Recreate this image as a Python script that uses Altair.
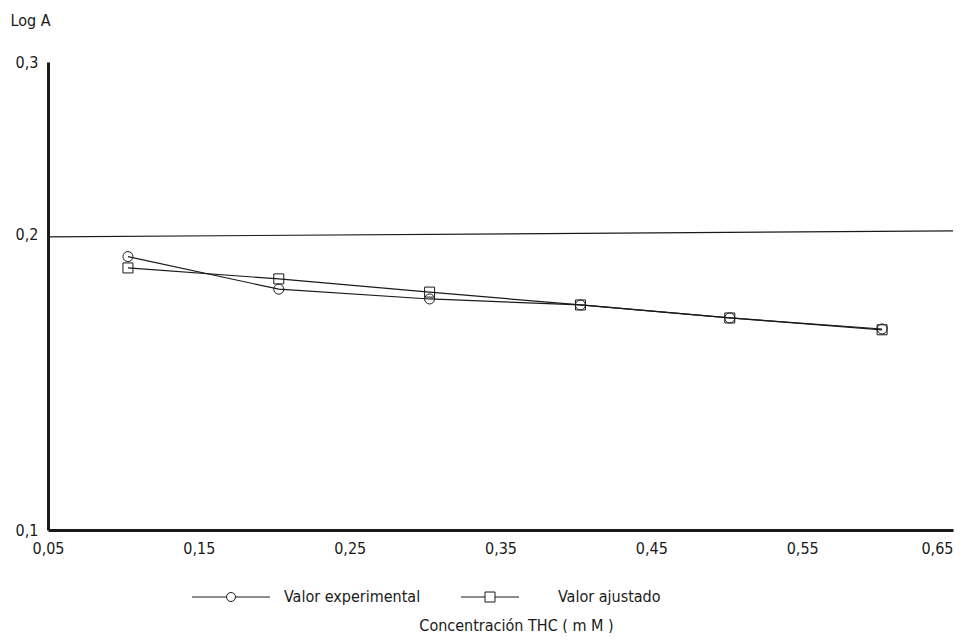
import altair as alt
import pandas as pd

conc = [0.103, 0.203, 0.303, 0.403, 0.502, 0.603]
exp_vals = [0.190, 0.176, 0.172, 0.1696, 0.1645, 0.1603]
adj_vals = [0.185, 0.1803, 0.1748, 0.1696, 0.1645, 0.1600]
series_names = ["Valor experimental", "Valor ajustado"]
ref_x = [0.05, 0.65]
ref_y = [0.1990, 0.2018]
x_ticks = [0.05, 0.15, 0.25, 0.35, 0.45, 0.55, 0.65]
y_ticks = [0.1, 0.2, 0.3]

rows = []
for c, e in zip(conc, exp_vals):
    rows.append({"x": c, "y": e, "serie": series_names[0]})
for c, a in zip(conc, adj_vals):
    rows.append({"x": c, "y": a, "serie": series_names[1]})
df = pd.DataFrame(rows)
ref = pd.DataFrame({"x": ref_x, "y": ref_y})

FONT = "Liberation Sans Narrow, Arial Narrow, DejaVu Sans Condensed, sans-serif"

# legend glyphs: line with open marker (unit = 5px at symbolSize 100)
circ_leg = "M-7.8,0H-0.9M0.9,0H7.8M-0.9,0A0.9,0.9 0 1,0 0.9,0A0.9,0.9 0 1,0 -0.9,0"
sq_leg = "M-8.8,0H-4M-2,0H2.8M-4,-1H-2V1H-4Z"

xenc = alt.X("x:Q", scale=alt.Scale(domain=[0.05, 0.65], nice=False, zero=False),
             axis=alt.Axis(values=x_ticks, labelExpr="replace(format(datum.value,'.2f'),'.',',')",
                           labelFlush=False,
                           labelAlign={"expr": "datum.value >= 0.649 ? 'right' : 'center'"},
                           title="Concentración THC ( m M )", titlePadding=61,
                           titleX=468, titleAlign="center",
                           ticks=False, grid=False, labelPadding=10))
yenc = alt.Y("y:Q", scale=alt.Scale(type="log", domain=[0.1, 0.3], nice=False),
             axis=alt.Axis(values=y_ticks, labelExpr="replace(format(datum.value,'.1f'),'.',',')",
                           title="Log A", titleAngle=0, titleAlign="left", titleBaseline="top",
                           titleX=-38, titleY=-50, ticks=False, grid=False, labelPadding=10))

lines = alt.Chart(df).mark_line(color="#1a1a1a", strokeWidth=1.2).encode(
    x=xenc, y=yenc, detail="serie:N")

points = alt.Chart(df).mark_point(filled=False, color="#1a1a1a", size=100, strokeWidth=1, opacity=1).encode(
    x="x:Q", y="y:Q",
    shape=alt.Shape("serie:N", sort=series_names,
                    scale=alt.Scale(domain=series_names, range=["circle", "square"]),
                    legend=None))

leg = alt.Chart(df).mark_point(opacity=0).encode(
    x="x:Q", y="y:Q",
    shape=alt.Shape("serie:N", sort=series_names,
                    scale=alt.Scale(domain=series_names, range=[circ_leg, sq_leg]),
                    legend=alt.Legend(title=None, orient="none", direction="horizontal",
                                      legendX=175, legendY=527, symbolSize=100,
                                      symbolStrokeColor="#1a1a1a", symbolFillColor="transparent",
                                      symbolStrokeWidth=1, symbolOpacity=1,
                                      labelOffset=45, columnPadding=38,
                                      labelFont=FONT, labelFontSize=16, labelColor="#1a1a1a")))

refline = alt.Chart(ref).mark_line(color="#1a1a1a", strokeWidth=1.2).encode(x="x:Q", y="y:Q")

chart = alt.layer(refline, lines, points, leg).resolve_scale(shape="independent").properties(
    width=905, height=468,
    autosize=alt.AutoSizeParams(type="none"),
    padding={"left": 40, "top": 54, "right": 6, "bottom": 103},
).configure_view(stroke=None).configure_axis(
    domainColor="#1a1a1a", domainWidth=3, labelFont=FONT, labelFontSize=16,
    labelColor="#1a1a1a", titleFont=FONT, titleFontSize=16, titleColor="#1a1a1a",
    titleFontWeight="normal"
)

chart.save("out.html", embed_options={"renderer": "svg", "actions": False})
